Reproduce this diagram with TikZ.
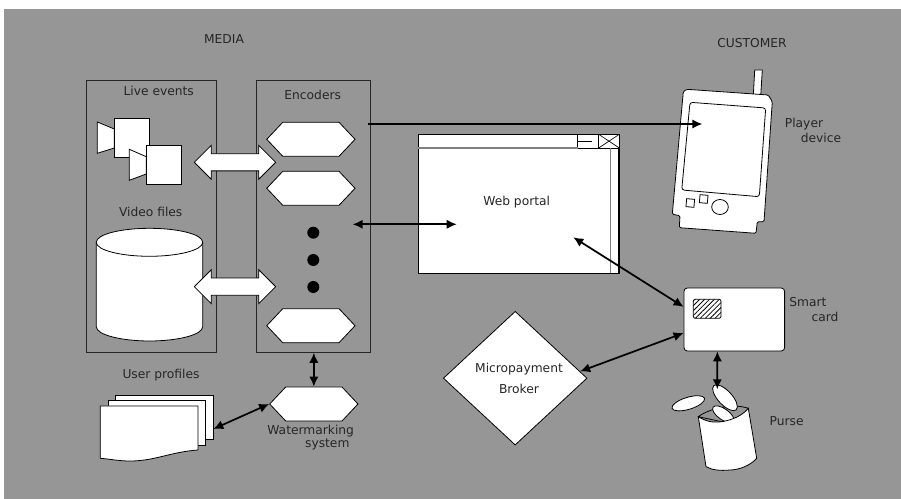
\documentclass[tikz,border=0pt]{standalone}
\usepackage{fontspec}
\setmainfont{DejaVu Sans}
\usetikzlibrary{arrows.meta,shapes.geometric,shapes.symbols,shapes.arrows,patterns.meta}
\definecolor{bggray}{HTML}{969696}
\definecolor{inkgray}{HTML}{262626}
\tikzset{
  lbl/.style={inner sep=0.75pt,text=inkgray,font=\fontsize{9.2pt}{11pt}\selectfont},
  solid white/.style={draw=black,fill=white,line width=0.6pt},
  groupbox/.style={draw=inkgray,line width=0.7pt,rectangle,inner sep=0pt},
  hexbox/.style={solid white,signal,signal to=east and west,signal pointer angle=93.5,minimum width=66.2pt,minimum height=25.5pt,inner sep=0pt},
  bigarrow/.style={solid white,double arrow,double arrow head extend=6.2pt,double arrow head indent=0pt,minimum height=61pt,text height=12.3pt,text depth=0pt,inner sep=0pt},
  link/.style={line width=1.3pt,black,{Latex[length=7.5pt,width=7pt]}-{Latex[length=7.5pt,width=7pt]}},
  dotmark/.style={circle,fill=black,minimum size=9pt,inner sep=0pt}
}
\begin{document}
\begin{tikzpicture}[x=0.75pt,y=0.75pt,yscale=-1,xscale=1]
        \useasboundingbox (0,0) rectangle (901,499);
        %Shape: Background
        \fill [bggray] (4,9) rectangle (901,499);

        %Shape: Group boxes
        \node [groupbox,minimum width=97.8pt,minimum height=203.7pt] (media) at (151.2,216.5) {};
        \node [groupbox,minimum width=85.5pt,minimum height=203.7pt] (encoders) at (313,216.5) {};

        %Shape: Cameras
        \draw [solid white] (97.3,122) -- (114.3,129) -- (114.3,148) -- (97.3,153.3) -- cycle ;
        \draw [solid white] (114.3,118.7) rectangle (149.3,157) ;
        \draw [solid white] (129.3,149.3) -- (146.3,156.7) -- (146.3,174) -- (129.3,180.3) -- cycle ;
        \draw [solid white] (146.3,145.7) rectangle (181.3,184.3) ;

        %Shape: Cylinder
        \draw [solid white] (96.3,242.3) .. controls (96.3,234) and (122,228.3) .. (149.5,228.3) .. controls (177,228.3) and (202.7,234) .. (202.7,242.3) -- (202.7,326.7) .. controls (202.7,335) and (177,341) .. (149.5,341) .. controls (122,341) and (96.3,335) .. (96.3,326.7) -- cycle ;
        \draw [black,line width=0.6pt] (96.3,242.3) .. controls (96.3,250.5) and (122,256.3) .. (149.5,256.3) .. controls (177,256.3) and (202.7,250.5) .. (202.7,242.3) ;

        %Shape: Encoders
        \node [hexbox] (encOne) at (310.9,139.3) {};
        \node [hexbox] (encTwo) at (310.9,188.3) {};
        \node [hexbox] (encLast) at (310.9,325.7) {};
        \node [dotmark] (dotOne) at (313.3,232.7) {};
        \node [dotmark] (dotTwo) at (313.3,260) {};
        \node [dotmark] (dotThree) at (313.3,287) {};
        \node [hexbox] (watermark) at (313.85,404) {};

        %Shape: White arrows
        \node [bigarrow] (liveArrow) at (235,162.3) {};
        \node [bigarrow] (fileArrow) at (235,286.7) {};

        %Shape: Stacked pages
        \draw [solid white] (115.7,395.3) rectangle (213.7,439.3) ;
        \draw [solid white] (108.3,400.7) rectangle (205,445.3) ;
        \draw [solid white] (100.3,406) -- (198,406) -- (198,450) .. controls (170,452) and (155,461) .. (130,461) .. controls (118,461) and (110,459) .. (100.3,458.3) -- cycle ;
        \coordinate (pagesOut) at (213.3,429);

        %Shape: Web portal window
        \node [solid white,rectangle,minimum width=151pt,minimum height=104.2pt,inner sep=0pt] (portal) at (518.65,203.8) {};
        \draw [black,line width=0.6pt] (577.7,134.3) rectangle (598.7,148) ;
        \draw [black,line width=0.6pt] (578,141) -- (592,141) ;
        \draw [black,line width=0.6pt] (598.7,134.3) rectangle (619.3,148) ;
        \draw [black,line width=0.5pt] (598.7,134.3) -- (619.3,148) (598.7,148) -- (619.3,134.3) ;
        \draw [gray,line width=0.8pt] (418,148) -- (577.7,148) ;
        \draw [gray,line width=0.7pt] (610.3,148) -- (610.3,273.3) ;
        \draw [black,line width=0.9pt] (619,148) -- (619,273.3) ;
        \coordinate (portalIn) at (456.7,224.3);
        \coordinate (portalCard) at (573.3,237.3);

        %Shape: Player device
        \draw [solid white] (754.7,70) -- (762.3,70) -- (760.7,96) -- (753.3,96) -- cycle ;
        \draw [solid white,rounded corners=1pt] (683.3,91.7) -- (686.7,89.3) -- (768.3,95) -- (772.3,101.7) -- (764,221.7) -- (757.3,221.7) -- (756,233.3) -- (679.3,227.7) -- (680,215.7) -- (672.3,214.3) -- cycle ;
        \draw [black,line width=0.6pt,rounded corners=2pt] (690,102.3) -- (765.7,108) -- (759.3,196.7) -- (681.7,190) -- cycle ;
        \draw [black,line width=0.6pt,rotate around={5:(690.3,203)}] (686.3,199) rectangle (694.3,207) ;
        \draw [black,line width=0.6pt,rotate around={5:(703.7,199)}] (699.7,195) rectangle (707.7,203) ;
        \draw [black,line width=0.6pt] (720,207) ellipse (8.3 and 7.5) ;
        \coordinate (playerIn) at (702.3,124);
        \coordinate (encOut) at (368,124);
        \coordinate (encPortal) at (352.7,224.3);

        %Shape: Smart card
        \node [solid white,rectangle,rounded corners=2.5pt,minimum width=75.5pt,minimum height=47.2pt,inner sep=0pt] (card) at (734.3,319.5) {};
        \draw [black,line width=0.6pt,rounded corners=1.5pt,fill=white,postaction={pattern={Lines[angle=45,distance=2.6pt,line width=0.6pt]}}] (693.3,299.3) rectangle (721,318.3) ;

        %Shape: Broker
        \node [solid white,diamond,minimum width=107.8pt,minimum height=100.3pt,inner sep=0pt,align=center] (broker) at (515.2,378.2) {};

        %Shape: Purse
        \draw [solid white] (688.3,403.3) ellipse [x radius=17,y radius=6,rotate=-17] ;
        \draw [black,fill=bggray,line width=0.6pt] (698.3,416.7) .. controls (705,411) and (730,402) .. (748.3,408.3) .. controls (745,416) and (735,420) .. (721.7,421.7) -- cycle ;
        \draw [solid white] (723.3,414.3) ellipse [x radius=12.5,y radius=5.5,rotate=35] ;
        \draw [solid white] (698.3,416.7) .. controls (705,421) and (712,423) .. (721.7,421.7) .. controls (732,420) and (742,416) .. (748.3,408.3) -- (756.7,458.3) .. controls (750,466) and (738,470) .. (730,470) .. controls (720,471) and (712,470) .. (706,466.7) -- cycle ;
        \draw [solid white] (725,397.7) ellipse [x radius=16.5,y radius=7,rotate=47] ;
        \coordinate (purseTop) at (717.3,389.3);

        %Shape: Connectors
        \draw [line width=1.3pt,-{Latex[length=7.5pt,width=7pt]}] (encOut) -- (playerIn) ;
        \draw [link] (encPortal) -- (portalIn) ;
        \draw [link] (portalCard) -- (card.166) ;
        \draw [link] (broker.6) -- (card.195) ;
        \draw [link] (card.242) -- (purseTop) ;
        \draw [link] (watermark.north) -- (watermark.north |- encoders.south) ;
        \draw [link] (pagesOut) -- (watermark.west) ;

        % Text Node
        \draw (224,39.3) node [lbl] (mediaLbl) {MEDIA};
        % Text Node
        \draw (752,43.3) node [lbl] (customerLbl) {CUSTOMER};
        % Text Node
        \draw (158.7,90.7) node [lbl] (liveLbl) {Live events};
        % Text Node
        \draw (312.7,94.7) node [lbl] (encodersLbl) {Encoders};
        % Text Node
        \draw (150.7,211.7) node [lbl] (videoLbl) {Video files};
        % Text Node
        \draw (161,375) node [lbl] (profilesLbl) {User profiles};
        % Text Node
        \draw (310.7,430.7) node [lbl] (waterLbl) {Watermarking};
        % Text Node
        \draw (327.3,444.7) node [lbl] (systemLbl) {system};
        % Text Node
        \draw (516.7,201.7) node [lbl] (portalLbl) {Web portal};
        % Text Node
        \draw (519,369.3) node [lbl] (microLbl) {Micropayment};
        % Text Node
        \draw (519,388.7) node [lbl] (brokerLbl) {Broker};
        % Text Node
        \draw (804,123.7) node [lbl] (playerLbl) {Player};
        % Text Node
        \draw (821,138.3) node [lbl] (deviceLbl) {device};
        % Text Node
        \draw (808,302.3) node [lbl] (smartLbl) {Smart};
        % Text Node
        \draw (825,317) node [lbl] (cardLbl) {card};
        % Text Node
        \draw (786.7,420.7) node [lbl] (purseLbl) {Purse};
\end{tikzpicture}
\end{document}
